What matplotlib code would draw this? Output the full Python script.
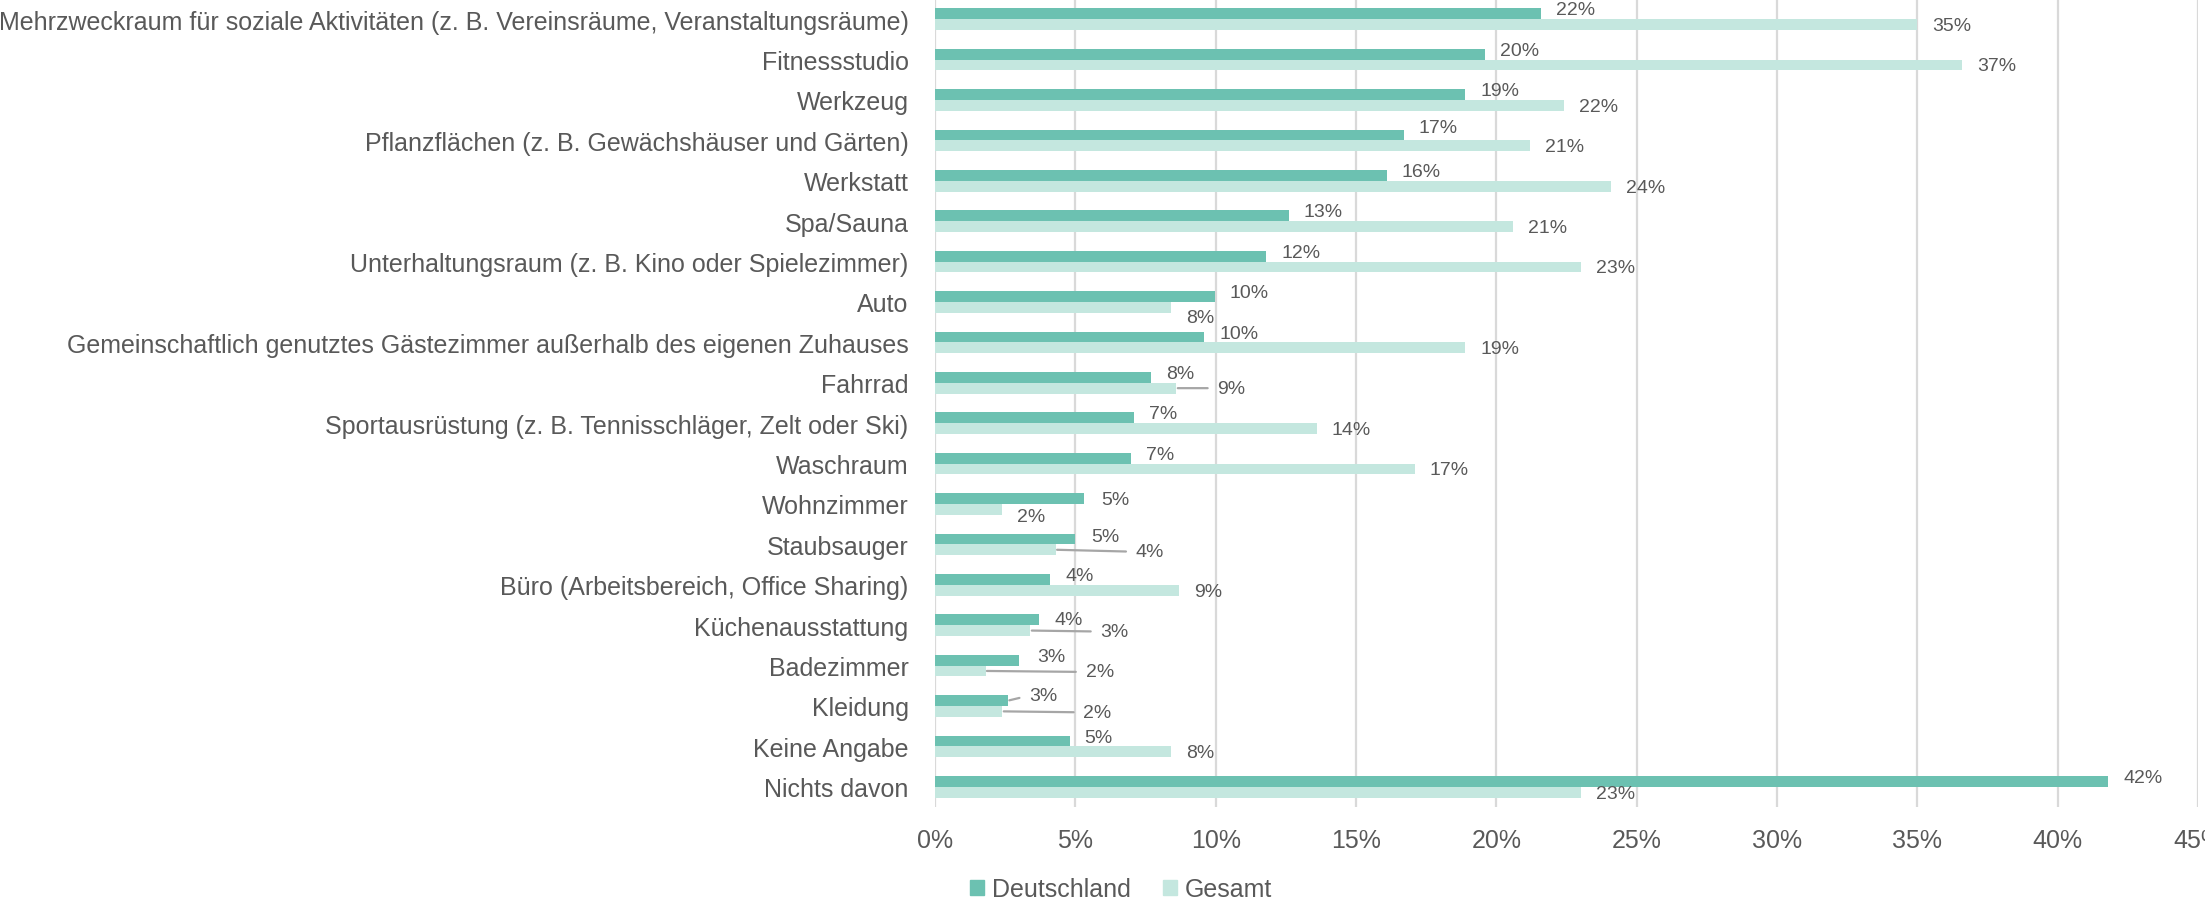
import matplotlib
matplotlib.use("Agg")
import matplotlib.pyplot as plt
from matplotlib.patches import Patch
import numpy as np

categories = [
    "Mehrzweckraum für soziale Aktivitäten (z. B. Vereinsräume, Veranstaltungsräume)",
    "Fitnessstudio",
    "Werkzeug",
    "Pflanzflächen (z. B. Gewächshäuser und Gärten)",
    "Werkstatt",
    "Spa/Sauna",
    "Unterhaltungsraum (z. B. Kino oder Spielezimmer)",
    "Auto",
    "Gemeinschaftlich genutztes Gästezimmer außerhalb des eigenen Zuhauses",
    "Fahrrad",
    "Sportausrüstung (z. B. Tennisschläger, Zelt oder Ski)",
    "Waschraum",
    "Wohnzimmer",
    "Staubsauger",
    "Büro (Arbeitsbereich, Office Sharing)",
    "Küchenausstattung",
    "Badezimmer",
    "Kleidung",
    "Keine Angabe",
    "Nichts davon",
]
deutschland = [21.6, 19.6, 18.9, 16.7, 16.1, 12.6, 11.8, 9.97, 9.6, 7.7,
               7.1, 7.0, 5.3, 5.0, 4.1, 3.7, 3.0, 2.6, 4.8, 41.8]
gesamt = [35.0, 36.6, 22.4, 21.2, 24.1, 20.6, 23.0, 8.4, 18.9, 8.6,
          13.6, 17.1, 2.4, 4.3, 8.7, 3.4, 1.8, 2.4, 8.4, 23.0]
series_names = ["Deutschland", "Gesamt"]
xticks = [0, 5, 10, 15, 20, 25, 30, 35, 40, 45]

# styling
C_D = "#6CC1B1"
C_G = "#C4E7DF"
TXT = "#595959"
GRID = "#D9D9D9"
LEADER = "#A6A6A6"
FONT = ["Liberation Sans", "DejaVu Sans"]

plt.rcParams["font.family"] = FONT

# label nudges in pixels: (dx from bar end, dy from bar centre (up +), leader line)
D_DEFAULT = (15, 4, False)
G_DEFAULT = (15, -1, False)
d_nudge = {3: (15, 8, False), 12: (17, -1, False), 13: (16, 3, False),
           15: (16, 0, False), 16: (18, 4, False), 17: (21, 5, True)}
g_nudge = {7: (15, -10, False), 12: (15, -7, False), 9: (41, 0, True),
           13: (80, -2, True), 15: (70, -1, True), 16: (100, -1, True),
           17: (81, -1, True)}

W, H = 2205, 904
fig = plt.figure(figsize=(W / 100, H / 100), dpi=100)
ax = fig.add_axes([935 / W, 1 - 808 / H, (2198 - 935) / W, 808 / H])

n = len(categories)
y = np.arange(n)
h = 0.265
ax.barh(y - h / 2, deutschland, height=h, color=C_D, zorder=3)
ax.barh(y + h / 2, gesamt, height=h, color=C_G, zorder=3)

ax.set_xlim(0, 45)
ax.set_ylim(n - 0.5, -0.5)
ax.set_xticks(xticks)
ax.set_xticklabels([f"{t}%" for t in xticks])
ax.set_yticks(y)
ax.set_yticklabels(categories)
ax.tick_params(axis="y", length=0, pad=19, labelsize=18, labelcolor=TXT)
ax.tick_params(axis="x", length=0, pad=15, labelsize=18, labelcolor=TXT)
ax.grid(axis="x", color=GRID, lw=1.6, zorder=0)
ax.set_axisbelow(True)
for s in ax.spines.values():
    s.set_visible(False)


def put_label(val, yc, nudge):
    dx, dy, leader = nudge
    kw = {}
    if leader:
        kw["arrowprops"] = dict(arrowstyle="-", color=LEADER, lw=1.6,
                                shrinkA=5, shrinkB=1, relpos=(0, 0.5))
    ax.annotate(f"{val:.0f}%", xy=(val, yc), xytext=(dx, dy),
                textcoords="offset pixels", ha="left", va="center",
                fontsize=14, color=TXT, zorder=4, **kw)


for i in range(n):
    put_label(deutschland[i], y[i] - h / 2, d_nudge.get(i, D_DEFAULT))
    put_label(gesamt[i], y[i] + h / 2, g_nudge.get(i, G_DEFAULT))

handles = [Patch(color=C_D), Patch(color=C_G)]
fig.legend(handles, series_names, loc="center", bbox_to_anchor=(1121 / W, 1 - 890 / H),
           ncol=2, frameon=False, fontsize=18, labelcolor=TXT,
           handlelength=0.55, handleheight=0.55, handletextpad=0.32,
           columnspacing=1.3, borderpad=0)

fig.savefig("out.png", dpi=100)
